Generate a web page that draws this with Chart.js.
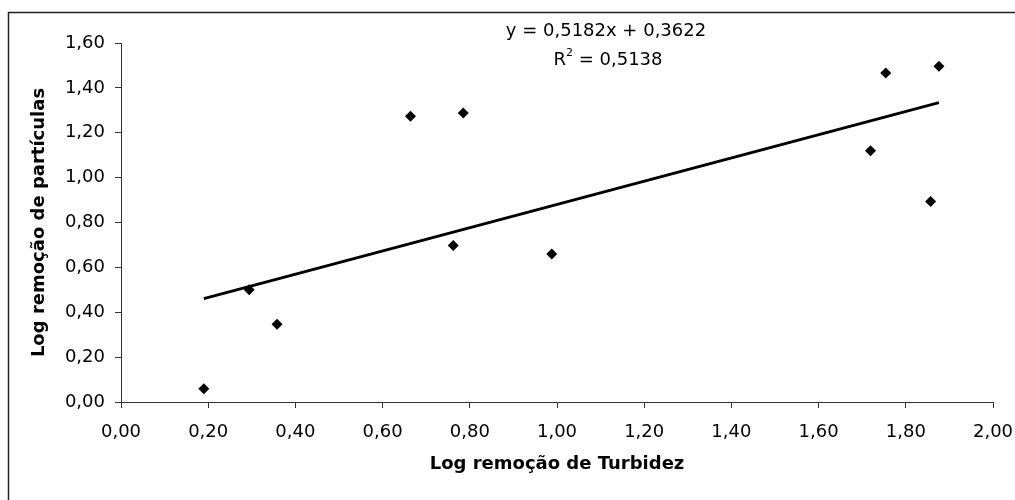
<!DOCTYPE html>
<html>
<head>
<meta charset="utf-8">
<script src="https://cdn.jsdelivr.net/npm/chart.js@4/dist/chart.umd.min.js"></script>
<style>
  html, body { margin: 0; padding: 0; background: #fff; }
  #wrap { width: 1015px; height: 500px; position: relative; }
</style>
</head>
<body>
<div id="wrap"><canvas id="c" width="1015" height="500"></canvas></div>
<script>
// Log removal of turbidity (x) vs. log removal of particles (y)
const turbidezLog = [0.190, 0.294, 0.358, 0.664, 0.762, 0.785, 0.988, 1.719, 1.754, 1.857, 1.876];
const particulasLog = [0.059, 0.500, 0.346, 1.273, 0.697, 1.288, 0.660, 1.120, 1.466, 0.894, 1.496];

// Linear trend line coefficients and fit quality
const slope = 0.5182;
const intercept = 0.3622;
const rSquared = 0.5138;

// Axis ranges and tick step
const xRange = [0, 2];
const yRange = [0, 1.6];
const tickStep = 0.2;

const fmt = v => v.toFixed(2).replace('.', ',');
const fmt4 = v => v.toFixed(4).replace('.', ',');

const points = turbidezLog.map((x, i) => ({ x, y: particulasLog[i] }));
const xMin = Math.min(...turbidezLog), xMax = Math.max(...turbidezLog);
const trend = [xMin, xMax].map(x => ({ x, y: slope * x + intercept }));

const FONT = 'DejaVu Sans';
const AXIS = '#333';

// Outer frame and the trend equation
const decor = {
  id: 'decor',
  afterDraw(chart) {
    const ctx = chart.ctx;
    ctx.save();
    ctx.strokeStyle = '#222';
    ctx.lineWidth = 1.5;
    ctx.strokeRect(8.5, 12.5, 1030, 520);

    ctx.fillStyle = '#000';
    ctx.textBaseline = 'middle';
    ctx.font = '18px "' + FONT + '"';
    ctx.textAlign = 'center';
    ctx.fillText('y = ' + fmt4(slope) + 'x + ' + fmt4(intercept), 606, 31);

    // R² line with a raised small "2"
    const big = '18px "' + FONT + '"', small = '11px "' + FONT + '"';
    const partR = 'R', partRest = ' = ' + fmt4(rSquared);
    ctx.font = big; const wR = ctx.measureText(partR).width, wRest = ctx.measureText(partRest).width;
    ctx.font = small; const w2 = ctx.measureText('2').width;
    const total = wR + w2 + wRest;
    let x0 = 608 - total / 2;
    ctx.textAlign = 'left';
    ctx.font = big; ctx.fillText(partR, x0, 60);
    ctx.font = small; ctx.fillText('2', x0 + wR, 53);
    ctx.font = big; ctx.fillText(partRest, x0 + wR + w2, 60);
    ctx.restore();
  }
};

new Chart(document.getElementById('c'), {
  type: 'scatter',
  data: {
    datasets: [
      {
        label: 'Dados',
        data: points,
        pointStyle: 'rectRot',
        pointRadius: 5.5,
        pointBorderWidth: 0,
        backgroundColor: '#000',
        borderColor: '#000',
        order: 1
      },
      {
        label: 'Tendência',
        type: 'line',
        data: trend,
        borderColor: '#000',
        borderWidth: 3,
        pointRadius: 0,
        fill: false,
        order: 2
      }
    ]
  },
  options: {
    responsive: false,
    animation: false,
    layout: { padding: { left: 0, top: 43, right: 22, bottom: 0 } },
    plugins: { legend: { display: false }, tooltip: { enabled: false } },
    scales: {
      x: {
        type: 'linear',
        min: xRange[0], max: xRange[1],
        afterFit(s) { s.height = 98; s.paddingLeft = 0; s.paddingRight = 0; },
        grid: { display: true, drawOnChartArea: false, drawTicks: true, tickLength: 6, color: AXIS, lineWidth: 1 },
        border: { display: true, color: AXIS, width: 1 },
        ticks: { stepSize: tickStep, padding: 14, color: '#000', font: { family: FONT, size: 18 }, callback: v => fmt(v), maxRotation: 0 },
        title: { display: true, text: 'Log remoção de Turbidez', color: '#000', font: { family: FONT, size: 18, weight: 'bold' }, padding: { top: 0, bottom: 25 } }
      },
      y: {
        type: 'linear',
        min: yRange[0], max: yRange[1],
        afterFit(s) { s.width = 121; s.paddingTop = 0; s.paddingBottom = 0; },
        grid: { display: true, drawOnChartArea: false, drawTicks: true, tickLength: 6, color: AXIS, lineWidth: 1 },
        border: { display: true, color: AXIS, width: 1 },
        ticks: { stepSize: tickStep, padding: 10, color: '#000', font: { family: FONT, size: 18 }, callback: v => fmt(v) },
        title: { display: true, text: 'Log remoção de partículas', color: '#000', font: { family: FONT, size: 18, weight: 'bold' }, padding: { top: 29, bottom: 0 } }
      }
    }
  },
  plugins: [decor]
});
</script>
</body>
</html>
